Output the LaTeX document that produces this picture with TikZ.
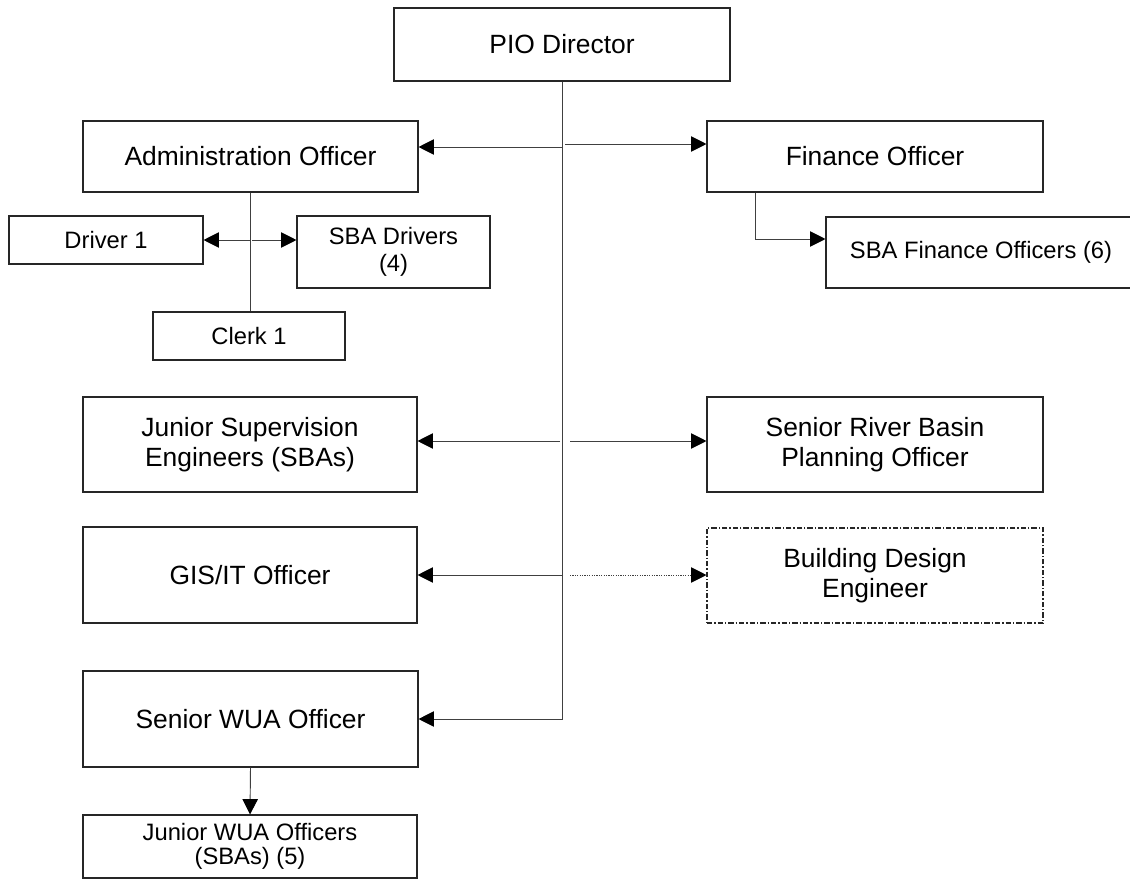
\documentclass[tikz,border=0pt]{standalone}
\usepackage{fontspec}
\setmainfont{Liberation Sans}
\usetikzlibrary{arrows.meta}
\begin{document}
\begin{tikzpicture}[x=0.75pt,y=-0.75pt,
  box/.style={draw=black!85, line width=0.8pt, fill=white, align=center,
              inner sep=0pt, text=black},
  big/.style={font=\fontsize{19.8}{22.5}\selectfont},
  small/.style={font=\fontsize{17.8}{18}\selectfont},
  link/.style={draw=black!75, line width=0.7pt},
  arr/.style={link, -{Triangle[length=11.5pt,width=11.5pt,color=black,fill=black]}},
  dotlink/.style={arr, dash pattern=on 0.9pt off 0.9pt},
  optbox/.style={box, dash pattern=on 4pt off 1.5pt on 1pt off 1.5pt},
]
\useasboundingbox (0,0) rectangle (1130,888);

% --- offices ---
\node[box,big,minimum width=252pt,minimum height=54.75pt] (pio) at (562,44.5) {PIO Director};
\node[box,big,minimum width=251.25pt,minimum height=53.25pt] (admin) at (250.5,156.5) {Administration Officer};
\node[box,big,minimum width=252pt,minimum height=53.25pt] (fin) at (875,156.5) {Finance Officer};
\node[box,small,minimum width=145.5pt,minimum height=36pt] (drv) at (106,240) {Driver 1};
\node[box,minimum width=144.75pt,minimum height=54pt,font=\fontsize{17.8}{20.5}\selectfont] (sbadrv) at (393.5,252) {SBA Drivers\\(4)};
\node[box,small,minimum width=144pt,minimum height=36pt] (clerk) at (249,336) {Clerk 1};
\node[box,small,minimum width=232.5pt,minimum height=53.25pt] (sbafin) at (981,252.5) {SBA Finance Officers (6)};
\node[box,big,minimum width=250.5pt,minimum height=71.25pt] (jse) at (250,444.5) {Junior Supervision\\Engineers (SBAs)};
\node[box,big,minimum width=252pt,minimum height=71.25pt] (srb) at (875,444.5) {Senior River Basin\\Planning Officer};
\node[box,big,minimum width=250.5pt,minimum height=72pt] (gis) at (250,575) {GIS/IT Officer};
\node[optbox,big,minimum width=252pt,minimum height=71.25pt] (bde) at (875,575.5) {Building Design\\Engineer};
\node[box,big,minimum width=251.25pt,minimum height=72pt] (wua) at (250.5,719) {Senior WUA Officer};
\node[box,small,minimum width=250.5pt,minimum height=47.25pt] (jwua) at (250,846.5) {Junior WUA Officers\\(SBAs) (5)};

% --- junction points on the main trunk ---
\coordinate (tA) at (563,147);
\coordinate (tF) at (565,144);
\coordinate (tJl) at (560,441);
\coordinate (tJr) at (570,441);
\coordinate (tG) at (563,575);
\coordinate (tB) at (570,575);
\coordinate (dA) at (250,240);
\coordinate (dB) at (252,240);
\coordinate (fA) at (755,239);

% --- connectors ---
\draw[arr] (pio.south) |- (wua.east);
\draw[arr] (tA) -- (tA -| admin.east);
\draw[arr] (tF) -- (tF -| fin.west);
\draw[arr] (tJl) -- (tJl -| jse.east);
\draw[arr] (tJr) -- (tJr -| srb.west);
\draw[arr] (tG) -- (tG -| gis.east);
\draw[dotlink] (tB) -- (tB -| bde.west);

\draw[link] (admin.south) -- (admin.south |- clerk.north);
\draw[arr] (dA) -- (dA -| drv.east);
\draw[arr] (dB) -- (dB -| sbadrv.west);

\draw[arr] (fA |- fin.south) |- (fA -| sbafin.west);
\draw[arr] (wua.south) -- (jwua.north);
\end{tikzpicture}
\end{document}
